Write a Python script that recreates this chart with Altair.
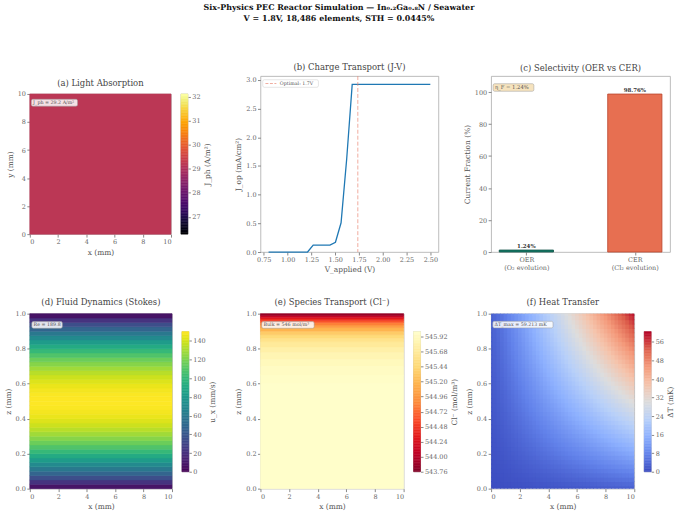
import altair as alt
import numpy as np
import pandas as pd

FONT = "DejaVu Serif"

# ---------------- data ----------------
title_lines = ["Six-Physics PEC Reactor Simulation — In₀.₂Ga₀.₈N / Seawater",
               "V = 1.8V, 18,486 elements, STH = 0.0445%"]

mm_ticks = [0, 2, 4, 6, 8, 10]
z_ticks = [0.0, 0.2, 0.4, 0.6, 0.8, 1.0]

# (a) light absorption
jph_value = 29.2
jph_range = [26.28, 32.12]
jph_ticks = [27, 28, 29, 30, 31, 32]
jph_note = "J_ph = 29.2 A/m²"

# (b) J-V curve
V_applied = [0.800, 0.859, 0.917, 0.976, 1.034, 1.093, 1.152, 1.210, 1.269, 1.328,
             1.386, 1.445, 1.503, 1.562, 1.621, 1.679, 1.738, 1.797, 1.855, 1.914,
             1.972, 2.031, 2.090, 2.148, 2.207, 2.266, 2.324, 2.383, 2.441, 2.500]
J_op = [0.0, 0.0, 0.0, 0.0, 0.0, 0.0, 0.0, 0.0, 0.12, 0.12,
        0.12, 0.12, 0.17, 0.51, 1.62, 2.92, 2.92, 2.92, 2.92, 2.92,
        2.92, 2.92, 2.92, 2.92, 2.92, 2.92, 2.92, 2.92, 2.92, 2.92]
V_opt = 1.738
V_ticks = [0.75, 1.0, 1.25, 1.5, 1.75, 2.0, 2.25, 2.5]
J_ticks = [0.0, 0.5, 1.0, 1.5, 2.0, 2.5, 3.0]
opt_label = "Optimal: 1.7V"

# (c) selectivity
sel_names = ["OER", "CER"]
sel_sub = ["(O₂ evolution)", "(Cl₂ evolution)"]
sel_values = [1.24, 98.76]
sel_text = ["1.24%", "98.76%"]
sel_fill = ["#17806d", "#e76f51"]
sel_stroke = ["#0b4d42", "#b9442c"]
sel_note = "η_F = 1.24%"

# (d) fluid dynamics: u_x per z band (40 bands, bottom to top)
u_profile = [7.4, 21.7, 35.2, 47.9, 59.9, 71.2, 81.7, 91.4, 100.4, 108.7,
             116.2, 122.9, 128.9, 134.2, 138.7, 142.4, 145.4, 147.7, 149.2, 149.9,
             149.9, 149.2, 147.7, 145.4, 142.4, 138.7, 134.2, 128.9, 122.9, 116.2,
             108.7, 100.4, 91.4, 81.7, 71.2, 59.9, 47.9, 35.2, 21.7, 7.4]
u_range = [0, 150]
u_ticks = [0, 20, 40, 60, 80, 100, 120, 140]
re_note = "Re = 189.8"

# (e) species transport: Cl- per z band
cl_edges = [0.0, 0.6, 0.65, 0.7, 0.74, 0.78, 0.81, 0.84, 0.86, 0.88, 0.90,
            0.92, 0.935, 0.95, 0.96, 0.97, 0.98, 0.99, 1.0]
cl_values = [545.99, 545.965, 545.94, 545.90, 545.84, 545.77, 545.68, 545.58, 545.47,
             545.34, 545.18, 545.00, 544.82, 544.64, 544.48, 544.30, 544.10, 543.88]
cl_range = [543.76, 546.0]
cl_ticks = [543.76, 544.00, 544.24, 544.48, 544.72, 544.96, 545.20, 545.44, 545.68, 545.92]
bulk_note = "Bulk = 546 mol/m³"
ylorrd_r = ["#800026", "#bd0026", "#e31a1c", "#fc4e2a", "#fd8d3c",
            "#feb24c", "#fed976", "#ffeda0", "#ffffcc"]

# (f) heat transfer: relative profiles along x and z (41 nodes each)
dT_x = [0.0, 0.25, 0.5, 0.75, 1.0, 1.25, 1.5, 1.75, 2.0, 2.25, 2.5, 2.75, 3.0, 3.25,
        3.5, 3.75, 4.0, 4.25, 4.5, 4.75, 5.0, 5.25, 5.5, 5.75, 6.0, 6.25, 6.5, 6.75,
        7.0, 7.25, 7.5, 7.75, 8.0, 8.25, 8.5, 8.75, 9.0, 9.25, 9.5, 9.75, 10.0]
dT_fx = [0.050, 0.064, 0.080, 0.098, 0.117, 0.137, 0.157, 0.178, 0.199, 0.221, 0.243,
         0.265, 0.288, 0.311, 0.334, 0.358, 0.381, 0.405, 0.429, 0.454, 0.478, 0.503,
         0.528, 0.553, 0.578, 0.603, 0.629, 0.655, 0.680, 0.706, 0.732, 0.759, 0.785,
         0.812, 0.838, 0.865, 0.892, 0.918, 0.946, 0.973, 1.000]
dT_z = [0.0, 0.025, 0.05, 0.075, 0.1, 0.125, 0.15, 0.175, 0.2, 0.225, 0.25, 0.275,
        0.3, 0.325, 0.35, 0.375, 0.4, 0.425, 0.45, 0.475, 0.5, 0.525, 0.55, 0.575,
        0.6, 0.625, 0.65, 0.675, 0.7, 0.725, 0.75, 0.775, 0.8, 0.825, 0.85, 0.875,
        0.9, 0.925, 0.95, 0.975, 1.0]
dT_gz = [0.050, 0.074, 0.098, 0.121, 0.145, 0.169, 0.193, 0.216, 0.240, 0.264, 0.288,
         0.311, 0.335, 0.359, 0.383, 0.406, 0.430, 0.454, 0.478, 0.501, 0.525, 0.549,
         0.573, 0.596, 0.620, 0.644, 0.668, 0.691, 0.715, 0.739, 0.763, 0.786, 0.810,
         0.834, 0.858, 0.881, 0.905, 0.929, 0.953, 0.976, 1.000]
dT_max = 59.213
dT_range = [0, 60.5]
dT_ticks = [0, 8, 16, 24, 32, 40, 48, 56]
dT_note = "ΔT_max = 59.213 mK"
coolwarm = ["#3b4cc0", "#6282ea", "#8db0fe", "#b8d0f9", "#dddddd",
            "#f5c4ac", "#f49a7b", "#de614d", "#b40426"]

# ---------------- helpers ----------------
TXT = "#555555"


def ptitle(t):
    return alt.TitleParams(text=t, font=FONT, fontSize=8.5, color="#444444",
                           fontWeight="normal", offset=4)


def note(text, x0, x1, y0, y1, fill="white", size=4.8):
    df = pd.DataFrame({"t": [text]})
    box = alt.Chart(df).mark_rect(fill=fill, fillOpacity=0.85, stroke="#999999",
                                  strokeWidth=0.5, cornerRadius=1.5).encode(
        x=alt.value(x0), x2=alt.value(x1), y=alt.value(y0), y2=alt.value(y1))
    txt = alt.Chart(df).mark_text(align="left", baseline="middle", fontSize=size,
                                  color=TXT, font=FONT).encode(
        x=alt.value(x0 + 1.8), y=alt.value((y0 + y1) / 2), text="t:N")
    return box + txt


def cbar_outline(plot_w, y_top, y_bot):
    return alt.Chart(pd.DataFrame({"a": [0]})).mark_rect(
        fillOpacity=0, stroke="#aaaaaa", strokeWidth=0.6).encode(
        x=alt.value(plot_w + 10), x2=alt.value(plot_w + 17),
        y=alt.value(y_top), y2=alt.value(y_bot))


def colorbar(cscale, dom, ticks, fmt, title, plot_w, y_top, y_bot, n=90):
    edges = np.linspace(dom[0], dom[1], n + 1)
    df = pd.DataFrame({"lo": edges[:-1], "hi": edges[1:], "v": (edges[:-1] + edges[1:]) / 2})
    x0, x1 = plot_w + 10, plot_w + 17
    ysc = alt.Scale(domain=dom, range=[y_bot, y_top], nice=False, zero=False)
    return alt.Chart(df).mark_rect(strokeWidth=0.5).encode(
        x=alt.value(x0), x2=alt.value(x1),
        y=alt.Y("lo:Q", scale=ysc,
                axis=alt.Axis(orient="right", offset=17, values=ticks, format=fmt,
                              title=title, titleAngle=270, titleBaseline="top",
                              tickSize=2.5, labelOverlap=False)),
        y2="hi:Q",
        color=alt.Color("v:Q", scale=cscale, legend=None),
        stroke=alt.Stroke("v:Q", scale=cscale, legend=None))


def mm_x():
    return alt.X("x0:Q", scale=alt.Scale(domain=[0, 10], nice=False, zero=False),
                 axis=alt.Axis(values=mm_ticks, format="d", title="x (mm)", labelOverlap=False))


def z_y():
    return alt.Y("z0:Q", scale=alt.Scale(domain=[0, 1], nice=False, zero=False),
                 axis=alt.Axis(values=z_ticks, format=".1f", title="z (mm)", labelOverlap=False))


def field(df, cscale, yenc, y2, stroke=True):
    enc = dict(x=mm_x(), x2="x1:Q", y=yenc, y2=y2,
               color=alt.Color("v:Q", scale=cscale, legend=None))
    if stroke:
        enc["stroke"] = alt.Stroke("v:Q", scale=cscale, legend=None)
        return alt.Chart(df).mark_rect(strokeWidth=0.6).encode(**enc)
    return alt.Chart(df).mark_rect().encode(**enc)


# ---------------- (a) ----------------
WA, HA = 142, 141
sc_a = alt.Scale(scheme="inferno", domain=jph_range)
a_df = pd.DataFrame({"x0": [0], "x1": [10], "y0": [0], "y1": [10], "v": [jph_value]})
a_field = field(a_df, sc_a,
                alt.Y("y0:Q", scale=alt.Scale(domain=[0, 10], nice=False, zero=False),
                      axis=alt.Axis(values=mm_ticks, format="d", title="y (mm)")),
                "y1:Q")
pa = alt.layer(a_field + note(jph_note, 1.5, 48, 5.3, 12.3) + cbar_outline(WA, 0, HA),
               colorbar(sc_a, jph_range, jph_ticks, "d", "J_ph (A/m²)", WA, 0, HA)
               ).resolve_scale(y="independent").properties(
    width=WA, height=HA, title=ptitle("(a) Light Absorption"))

# ---------------- (b) ----------------
WB, HB = 179, 177
b_df = pd.DataFrame({"V": V_applied, "J": J_op})
bx_scale = alt.Scale(domain=[0.715, 2.585], nice=False, zero=False)
bx_axis = alt.Axis(values=V_ticks, format=".2f", title="V_applied (V)", labelOverlap=False)
b_line = alt.Chart(b_df).mark_line(color="#1f78b4", strokeWidth=1.3).encode(
    x=alt.X("V:Q", scale=bx_scale, axis=bx_axis),
    y=alt.Y("J:Q", scale=alt.Scale(domain=[0, 3.066], nice=False),
            axis=alt.Axis(values=J_ticks, format=".1f", title="J_op (mA/cm²)",
                          labelOverlap=False)))
b_opt = alt.Chart(pd.DataFrame({"V": [V_opt]})).mark_rule(
    color="#e8836f", strokeDash=[4, 2], strokeWidth=0.9, opacity=0.75).encode(
    x=alt.X("V:Q", scale=bx_scale, axis=bx_axis))
leg_df = pd.DataFrame({"t": [opt_label]})
b_leg_box = alt.Chart(leg_df).mark_rect(fill="white", fillOpacity=0.85, stroke="#cccccc",
                                        strokeWidth=0.5, cornerRadius=1.5).encode(
    x=alt.value(2.3), x2=alt.value(58.3), y=alt.value(3.7), y2=alt.value(11.3))
b_leg_line = alt.Chart(leg_df).mark_rule(color="#e8836f", strokeDash=[3, 1.5],
                                         strokeWidth=0.9, opacity=0.75).encode(
    x=alt.value(5), x2=alt.value(16), y=alt.value(7.5))
b_leg_txt = alt.Chart(leg_df).mark_text(align="left", baseline="middle", fontSize=4.8,
                                        color=TXT, font=FONT).encode(
    x=alt.value(19.5), y=alt.value(7.5), text="t:N")
pb = alt.layer(b_line, b_opt, b_leg_box, b_leg_line, b_leg_txt).properties(
    width=WB, height=HB, title=ptitle("(b) Charge Transport (J-V)"))

# ---------------- (c) ----------------
WC, HC = 180, 177
c_df = pd.DataFrame({"name": sel_names, "pos": [0, 1], "val": sel_values, "lbl": sel_text})
c_df["lo"] = c_df["pos"] - 0.25
c_df["hi"] = c_df["pos"] + 0.25
c_df["base"] = 0.0
lab_expr = (f"datum.value == 0 ? ['{sel_names[0]}', '{sel_sub[0]}'] : "
            f"['{sel_names[1]}', '{sel_sub[1]}']")
cx_scale = alt.Scale(domain=[-0.325, 1.325], nice=False, zero=False)
cx_axis = alt.Axis(values=[0, 1], labelExpr=lab_expr, title=None, labelLineHeight=8,
                   labelOverlap=False)
cy_scale = alt.Scale(domain=[0, 110], nice=False)
cy_axis = alt.Axis(values=[0, 20, 40, 60, 80, 100], format="d",
                   title="Current Fraction (%)", labelOverlap=False)
c_bars = alt.Chart(c_df).mark_rect(strokeWidth=0.8).encode(
    x=alt.X("lo:Q", scale=cx_scale, axis=cx_axis),
    x2="hi:Q",
    y=alt.Y("val:Q", scale=cy_scale, axis=cy_axis),
    y2="base:Q",
    color=alt.Color("name:N", scale=alt.Scale(domain=sel_names, range=sel_fill), legend=None),
    stroke=alt.Stroke("name:N", scale=alt.Scale(domain=sel_names, range=sel_stroke), legend=None))
c_txt = alt.Chart(c_df).mark_text(baseline="bottom", dy=-1.5, fontSize=5.5, fontWeight="bold",
                                  color="#333333", font=FONT).encode(
    x=alt.X("pos:Q", scale=cx_scale, axis=cx_axis),
    y=alt.Y("val:Q", scale=cy_scale, axis=cy_axis),
    text="lbl:N")
pc = alt.layer(c_bars, c_txt, note(sel_note, 2, 43, 7.7, 15.3, fill="#f5deb3", size=5.3)).properties(
    width=WC, height=HC, title=ptitle("(c) Selectivity (OER vs CER)"))

# ---------------- (d) ----------------
H2 = 176
WD = 143
sc_d = alt.Scale(scheme="viridis", domain=u_range)
nz = len(u_profile)
d_df = pd.DataFrame({"x0": 0, "x1": 10,
                     "z0": [k / nz for k in range(nz)],
                     "z1": [(k + 1) / nz for k in range(nz)],
                     "v": u_profile})
pd_ = alt.layer(field(d_df, sc_d, z_y(), "z1:Q") + note(re_note, 2, 32.7, 8, 14.7)
                + cbar_outline(WD, 18, 159),
                colorbar(sc_d, u_range, u_ticks, "d", "u_x (mm/s)", WD, 18, 159)
                ).resolve_scale(y="independent").properties(
    width=WD, height=H2, title=ptitle("(d) Fluid Dynamics (Stokes)"))

# ---------------- (e) ----------------
WE = 144
sc_e = alt.Scale(domain=list(np.linspace(cl_range[0], cl_range[1], len(ylorrd_r))),
                 range=ylorrd_r, interpolate="rgb")
e_df = pd.DataFrame({"x0": 0, "x1": 10, "z0": cl_edges[:-1], "z1": cl_edges[1:], "v": cl_values})
pe = alt.layer(field(e_df, sc_e, z_y(), "z1:Q") + note(bulk_note, 1.3, 54, 8, 14.7)
               + cbar_outline(WE, 18, 159),
               colorbar(sc_e, cl_range, cl_ticks, ".2f", "Cl⁻ (mol/m³)", WE, 18, 159)
               ).resolve_scale(y="independent").properties(
    width=WE, height=H2, title=ptitle("(e) Species Transport (Cl⁻)"))

# ---------------- (f) ----------------
WF = 144
sc_f = alt.Scale(domain=list(np.linspace(dT_range[0], dT_range[1], len(coolwarm))),
                 range=coolwarm, interpolate="rgb")
hx, hz = 0.125, 0.0125
rows = []
for xi, fx in zip(dT_x, dT_fx):
    for zj, gz in zip(dT_z, dT_gz):
        rows.append({"x0": max(0, xi - hx), "x1": min(10, xi + 1.5 * hx),
                     "z0": max(0, zj - hz), "z1": min(1, zj + 1.5 * hz),
                     "v": dT_max * fx * gz})
f_df = pd.DataFrame(rows)
pf = alt.layer(field(f_df, sc_f, z_y(), "z1:Q", stroke=False) + note(dT_note, 1.7, 62.3, 7.7, 14.3)
               + cbar_outline(WF, 18, 159),
               colorbar(sc_f, dT_range, dT_ticks, "d", "ΔT (mK)", WF, 18, 159)
               ).resolve_scale(y="independent").properties(
    width=WF, height=H2, title=ptitle("(f) Heat Transfer"))


def spacer(w):
    return alt.Chart(pd.DataFrame({"a": [0]})).mark_point(opacity=0).encode(
        x=alt.value(0), y=alt.value(0)).properties(
        width=w, height=10, view=alt.ViewBackground(strokeOpacity=0))


chart = alt.concat(
    pa, spacer(89), pb, spacer(53), pc,
    pd_, spacer(89), pe, spacer(53), pf,
    columns=5,
    spacing={"row": 62, "column": 0},
    bounds="flush",
    align="each",
    center={"row": True, "column": False},
    title=alt.TitleParams(text=title_lines, fontSize=8, fontWeight="bold", color="#111111",
                          font=FONT, anchor="middle", frame="bounds", offset=40,
                          lineHeight=11),
).resolve_scale(color="independent", stroke="independent").properties(
    padding={"left": 3, "top": 2, "right": 5, "bottom": 2}
).configure(font=FONT).configure_view(
    stroke="#aaaaaa", strokeWidth=0.8
).configure_axis(
    grid=False, domain=False, labelFont=FONT, titleFont=FONT, labelFontSize=6.5,
    titleFontSize=7.5, labelColor="#666666", titleColor=TXT, tickColor="#888888",
    tickSize=3, labelPadding=1.5, titlePadding=3, titleFontWeight="normal",
    labelOverlap=False
).configure_title(font=FONT, fontSize=8.5, color="#444444", fontWeight="normal", offset=4)

chart.save("out.html", embed_options={"renderer": "svg", "actions": False})
